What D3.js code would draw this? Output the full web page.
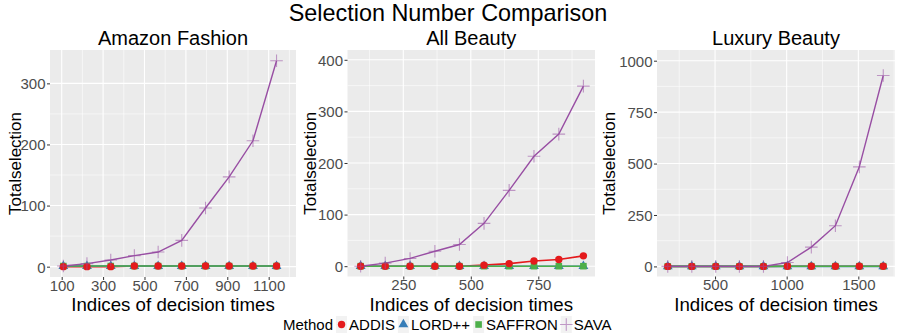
<!DOCTYPE html>
<html><head><meta charset="utf-8">
<script src="https://cdn.jsdelivr.net/npm/d3@7"></script>
<style>body{margin:0;background:#fff}svg{display:block;font-family:"Liberation Sans",Arial,sans-serif}</style>
</head><body><svg id="c" width="897" height="336"></svg>
<script>
// ---- data ----
const methods = ["ADDIS", "LORD++", "SAFFRON", "SAVA"];
const colors = ["#e41a1c", "#377eb8", "#4daf4a", "#984ea3"];
const panelTitles = ["Amazon Fashion", "All Beauty", "Luxury Beauty"];

const xFashion = [108, 222, 337, 451, 566, 680, 795, 909, 1024, 1138];
const fashionADDIS   = [0, 0, 0, 1, 1, 1, 1, 1, 1, 1];
const fashionLORD    = [1, 1, 1, 1, 1, 1, 1, 1, 1, 1];
const fashionSAFFRON = [1, 1, 1, 1, 1, 1, 1, 1, 1, 1];
const fashionSAVA    = [1, 5, 11, 18, 24, 43, 96, 147, 206, 337];

const xAllBeauty = [92, 183, 275, 367, 458, 549, 642, 734, 826, 917];
const beautyADDIS   = [0, 0, 0, 0, 0, 2, 5, 10, 13, 20];
const beautyLORD    = [0, 0, 0, 0, 0, 0, 0, 0, 0, 0];
const beautySAFFRON = [0, 0, 0, 0, 0, 0, 0, 0, 0, 0];
const beautySAVA    = [0, 6, 15, 29, 42, 83, 147, 213, 256, 349];

const xLuxury = [170, 338, 505, 670, 838, 1005, 1172, 1340, 1507, 1674];
const luxuryADDIS   = [0, 0, 0, 0, 0, 1, 1, 1, 1, 1];
const luxuryLORD    = [0, 0, 0, 0, 0, 0, 0, 0, 0, 0];
const luxurySAFFRON = [0, 0, 0, 0, 0, 1, 1, 1, 1, 1];
const luxurySAVA    = [0, 0, 0, 0, 0, 19, 94, 198, 484, 928];

const xTicks = [[100, 300, 500, 700, 900, 1100], [250, 500, 750], [500, 1000, 1500]];
const yTicks = [[0, 100, 200, 300], [0, 100, 200, 300, 400], [0, 250, 500, 750, 1000]];
const xMinor = [[200, 400, 600, 800, 1000, 1200], [125, 375, 625, 875], [250, 750, 1250, 1750]];
const yMinor = [[50, 150, 250], [50, 150, 250, 350], [125, 375, 625, 875]];

const panels = [
  {title: panelTitles[0], x: xFashion, series: [fashionADDIS, fashionLORD, fashionSAFFRON, fashionSAVA],
   box: [50, 296, 50, 277], xd: [43.5, 1232], yd: [-16.9, 354.6], ytx: 21},
  {title: panelTitles[1], x: xAllBeauty, series: [beautyADDIS, beautyLORD, beautySAFFRON, beautySAVA],
   box: [347.5, 595, 50, 276.5], xd: [43.3, 960], yd: [-20, 419], ytx: 316},
  {title: panelTitles[2], x: xLuxury, series: [luxuryADDIS, luxuryLORD, luxurySAFFRON, luxurySAVA],
   box: [657, 895, 50, 276.5], xd: [95, 1756], yd: [-49, 1052], ytx: 615}
];

const svg = d3.select("#c");
svg.append("text").attr("x", 448).attr("y", 21).attr("text-anchor", "middle")
  .attr("font-size", 23.4).attr("fill", "#000").text("Selection Number Comparison");

function marker(g, m, cx, cy, col) {
  if (m === 0) g.append("circle").attr("cx", cx).attr("cy", cy).attr("r", 3.7).attr("fill", col);
  else if (m === 1) g.append("path").attr("d", d3.symbol(d3.symbolTriangle, 42)()).attr("transform", `translate(${cx},${cy})`).attr("fill", col);
  else if (m === 2) g.append("rect").attr("x", cx - 3.3).attr("y", cy - 3.3).attr("width", 6.6).attr("height", 6.6).attr("fill", col);
  else g.append("path").attr("d", `M${cx-6.3},${cy}H${cx+6.3}M${cx},${cy-6.3}V${cy+6.3}`).attr("stroke", col).attr("stroke-opacity", 0.55).attr("stroke-width", 1.1).attr("fill", "none");
}

panels.forEach((p, i) => {
  const [x0, x1, y0, y1] = p.box;
  const x = d3.scaleLinear().domain(p.xd).range([x0, x1]);
  const y = d3.scaleLinear().domain(p.yd).range([y1, y0]);
  const g = svg.append("g");
  g.append("rect").attr("x", x0).attr("y", y0).attr("width", x1 - x0).attr("height", y1 - y0).attr("fill", "#ebebeb");
  // minor grid
  g.selectAll(null).data(xMinor[i].filter(v => v > p.xd[0] && v < p.xd[1])).join("line")
    .attr("x1", d => x(d)).attr("x2", d => x(d)).attr("y1", y0).attr("y2", y1).attr("stroke", "#fff").attr("stroke-width", 0.55);
  g.selectAll(null).data(yMinor[i]).join("line")
    .attr("y1", d => y(d)).attr("y2", d => y(d)).attr("x1", x0).attr("x2", x1).attr("stroke", "#fff").attr("stroke-width", 0.55);
  // major grid
  g.selectAll(null).data(xTicks[i]).join("line")
    .attr("x1", d => x(d)).attr("x2", d => x(d)).attr("y1", y0).attr("y2", y1).attr("stroke", "#fff").attr("stroke-width", 1.1);
  g.selectAll(null).data(yTicks[i]).join("line")
    .attr("y1", d => y(d)).attr("y2", d => y(d)).attr("x1", x0).attr("x2", x1).attr("stroke", "#fff").attr("stroke-width", 1.1);

  // axes
  const ax = g.append("g").attr("transform", `translate(0,${y1})`)
    .call(d3.axisBottom(x).tickValues(xTicks[i]).tickSize(3).tickPadding(0).tickFormat(d3.format("d")));
  const ay = g.append("g").attr("transform", `translate(${x0},0)`)
    .call(d3.axisLeft(y).tickValues(yTicks[i]).tickSize(3).tickPadding(1.5).tickFormat(d3.format("d")));
  [ax, ay].forEach(a => {
    a.select(".domain").remove();
    a.selectAll(".tick line").attr("stroke", "#333").attr("stroke-width", 1);
    a.selectAll(".tick text").attr("fill", "#4d4d4d").attr("font-size", 15).attr("font-family", "Liberation Sans, Arial, sans-serif");
  });
  ay.selectAll(".tick text").attr("dy", "0.36em");

  // lines
  const line = d3.line().x((d, k) => x(p.x[k])).y(d => y(d));
  p.series.forEach((s, m) => {
    g.append("path").datum(s).attr("d", line).attr("fill", "none")
      .attr("stroke", colors[m]).attr("stroke-width", m === 3 ? 1.4 : 1.6);
  });
  // points
  [1, 2, 0, 3].forEach(m => {
    p.series[m].forEach((v, k) => marker(g, m, x(p.x[k]), y(v), colors[m]));
  });

  // titles
  const cx = (x0 + x1) / 2;
  svg.append("text").attr("x", cx).attr("y", 45).attr("text-anchor", "middle").attr("font-size", 20).text(p.title);
  svg.append("text").attr("x", cx).attr("y", 311).attr("text-anchor", "middle").attr("font-size", 18.7).text("Indices of decision times");
  svg.append("text").attr("transform", `translate(${p.ytx},${(y0 + y1) / 2}) rotate(-90)`)
    .attr("text-anchor", "middle").attr("font-size", 17).text("Totalselection");
});

// legend
const lg = svg.append("g");
let cur = 283;
const t0 = lg.append("text").attr("x", cur).attr("y", 330).attr("font-size", 15).text("Method");
cur += t0.node().getComputedTextLength();
methods.forEach((m, i) => {
  const kc = cur + 8.5;
  lg.append("rect").attr("x", kc - 5.5).attr("y", 316).attr("width", 11).attr("height", 17).attr("fill", "#f2f2f2");
  marker(lg, i, kc, 324.5, colors[i]);
  const t = lg.append("text").attr("x", kc + 7.5).attr("y", 330).attr("font-size", 15).text(m);
  cur = kc + 7.5 + t.node().getComputedTextLength();
});
</script></body></html>
